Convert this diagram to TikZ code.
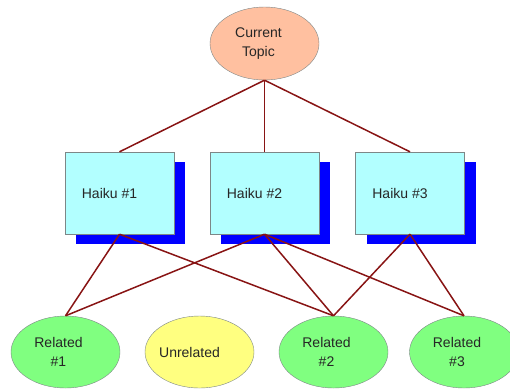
\documentclass[tikz,border=0pt]{standalone}
\usepackage{fontspec}
\setmainfont{Liberation Sans}
\usepackage{tikz}
\usetikzlibrary{shapes.geometric,shadows}
\definecolor{topicpeach}{RGB}{255,192,160}
\definecolor{haikucyan}{RGB}{178,255,255}
\definecolor{relgreen}{RGB}{128,255,128}
\definecolor{unrelyellow}{RGB}{255,255,128}
\definecolor{linkred}{RGB}{136,20,20}
\definecolor{bordergray}{RGB}{125,135,135}

\begin{document}
\begin{tikzpicture}[x=1pt, y=-1pt, font=\fontsize{14}{18.5}\selectfont]
            \tikzstyle{topic}=[ellipse, draw=bordergray, fill=topicpeach, minimum width=109pt, minimum height=73pt, inner sep=0pt]
            \tikzstyle{haiku}=[rectangle, draw=bordergray, fill=haikucyan, minimum width=109pt, minimum height=82pt, inner sep=0pt,
                drop shadow={shadow xshift=11pt, shadow yshift=-10pt, fill=blue, opacity=1}]
            \tikzstyle{related}=[ellipse, draw=bordergray, fill=relgreen, minimum width=109pt, minimum height=72pt, inner sep=0pt]
            \tikzstyle{unrelated}=[related, fill=unrelyellow]
            \tikzstyle{link}=[line width=1.5pt, draw=linkred]
            \tikzstyle{annot}=[align=center, text=black!85]

            \useasboundingbox (0,0) rectangle (510,389);

            % Draw the current topic
            \node[topic, label={[annot, xshift=-6pt]center:Current\\Topic}] (T) at (264.5,43.5) {};

            % Draw the haiku boxes
            \foreach \n/\x in {1/119.5,2/264.5,3/410}
                \node[haiku, label={[annot, xshift=-10pt]center:Haiku \#\n}] (H-\n) at (\x,193) {};

            % Draw the related and unrelated topics
            \foreach \n/\x in {1/65.5,2/333.5,3/464}
                \node[related, label={[annot, xshift=-7pt]center:Related\\\#\n}] (R-\n) at (\x,352) {};
            \node[unrelated, label={[annot, xshift=-10pt]center:Unrelated}] (U) at (199.5,352) {};

            % Connect the current topic with every haiku
            \foreach \dest in {1,2,3}
                \draw[link] (T.south) -- (H-\dest.north);

            % Connect every haiku with its related topics
            \foreach \source/\dest in {1/1,1/2,2/1,2/2,2/3,3/2,3/3}
                \draw[link] (H-\source.south) -- (R-\dest.north);

        \end{tikzpicture}
\end{document}
